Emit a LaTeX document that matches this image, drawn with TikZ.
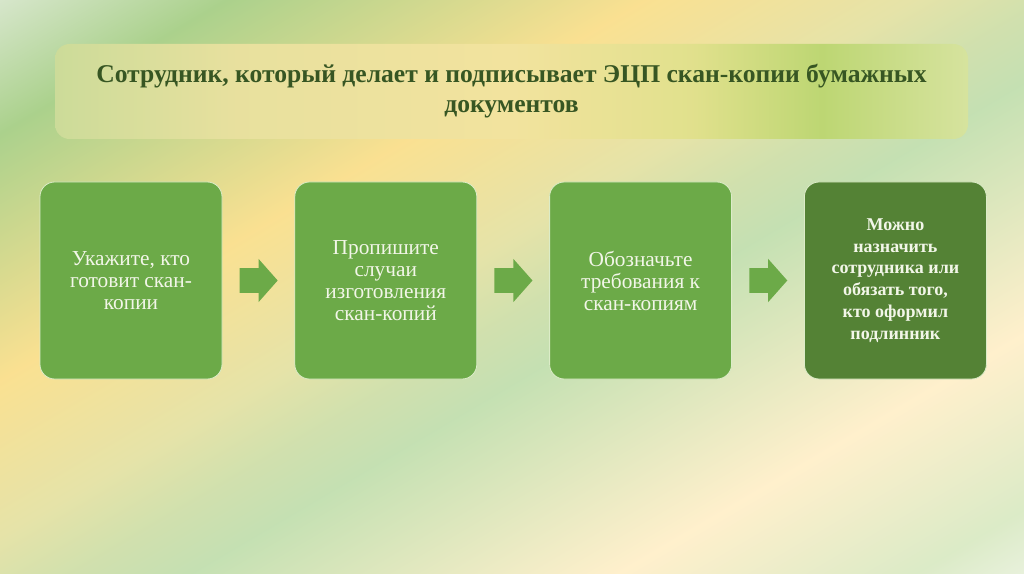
\documentclass[tikz,border=0pt]{standalone}
\usepackage{fontspec}
\setmainfont{Liberation Serif}
\usetikzlibrary{positioning,shapes.arrows,calc}

\definecolor{boxgreen}{RGB}{108,170,72}
\definecolor{darkgreen}{RGB}{84,130,53}
\definecolor{titlegreen}{RGB}{55,86,35}
\definecolor{edgegreen}{RGB}{220,236,200}
\definecolor{boxtext}{RGB}{242,246,232}

\pgfdeclarehorizontalshading{bgshade}{100bp}{rgb(0bp)=(.92,.94,.91); rgb(12bp)=(.92,.94,.91);
  rgb(23.4bp)=(.67,.82,.55); rgb(37.8bp)=(.98,.88,.57); rgb(47bp)=(.90,.89,.66);
  rgb(51.5bp)=(.82,.88,.68); rgb(55.7bp)=(.77,.88,.70); rgb(70.4bp)=(1,.94,.80);
  rgb(80.6bp)=(.86,.92,.78); rgb(88bp)=(.96,.97,.94); rgb(100bp)=(.96,.97,.94)}
\pgfdeclarehorizontalshading{titleshade}{100bp}{rgb(0bp)=(.80,.86,.60); rgb(25bp)=(.80,.86,.60);
  rgb(35bp)=(.91,.88,.62); rgb(50bp)=(.95,.89,.62); rgb(60bp)=(.88,.88,.55);
  rgb(67bp)=(.74,.84,.45); rgb(75bp)=(.84,.89,.62); rgb(100bp)=(.84,.89,.62)}

\tikzset{
  stepbox/.style = {draw = edgegreen, line width = 0.6pt, fill = boxgreen, rounded corners = 11pt,
                    minimum width = 136.5pt, minimum height = 147.75pt, align = center,
                    text = boxtext, font = \fontsize{16}{16.5}\selectfont},
  lastbox/.style = {stepbox, fill = darkgreen, font = \fontsize{13.5}{16.4}\selectfont\bfseries},
  blockarrow/.style = {single arrow, fill = boxgreen, inner xsep = 0pt, inner ysep = 9pt,
                       minimum height = 28.5pt, single arrow head extend = 7pt,
                       single arrow tip angle = 97, anchor = tail},
  titlebar/.style = {shading = titleshade, rounded corners = 11pt, minimum width = 684.75pt,
                     minimum height = 71.25pt, align = center, text = titlegreen,
                     font = \fontsize{19.2}{22.5}\selectfont\bfseries}
}

\begin{document}
\begin{tikzpicture}[x = 0.75pt, y = -0.75pt, node distance = 54pt]
\shade[shading = bgshade, shading angle = -59.5] (0,0) rectangle (1024,574);
\useasboundingbox (0,0) rectangle (1024,574);

\node[titlebar] (title) at (511.5,91.5) {Сотрудник, который делает и подписывает ЭЦП скан-копии бумажных\\документов};

\node[stepbox] (who) at (131,280.5) {Укажите, кто\\готовит скан-\\копии};
\node[stepbox, right = of who] (cases) {Пропишите\\случаи\\изготовления\\скан-копий};
\node[stepbox, right = of cases] (reqs) {Обозначьте\\требования к\\скан-копиям};
\node[lastbox, right = of reqs] (assign) {Можно\\назначить\\сотрудника или\\обязать того,\\кто оформил\\подлинник};

\foreach \a/\b in {who/cases, cases/reqs, reqs/assign}
   \node[blockarrow] (arr-\a) at ($(\a.east)!0.5!(\b.west) + (-19,0)$) {};
\end{tikzpicture}
\end{document}
